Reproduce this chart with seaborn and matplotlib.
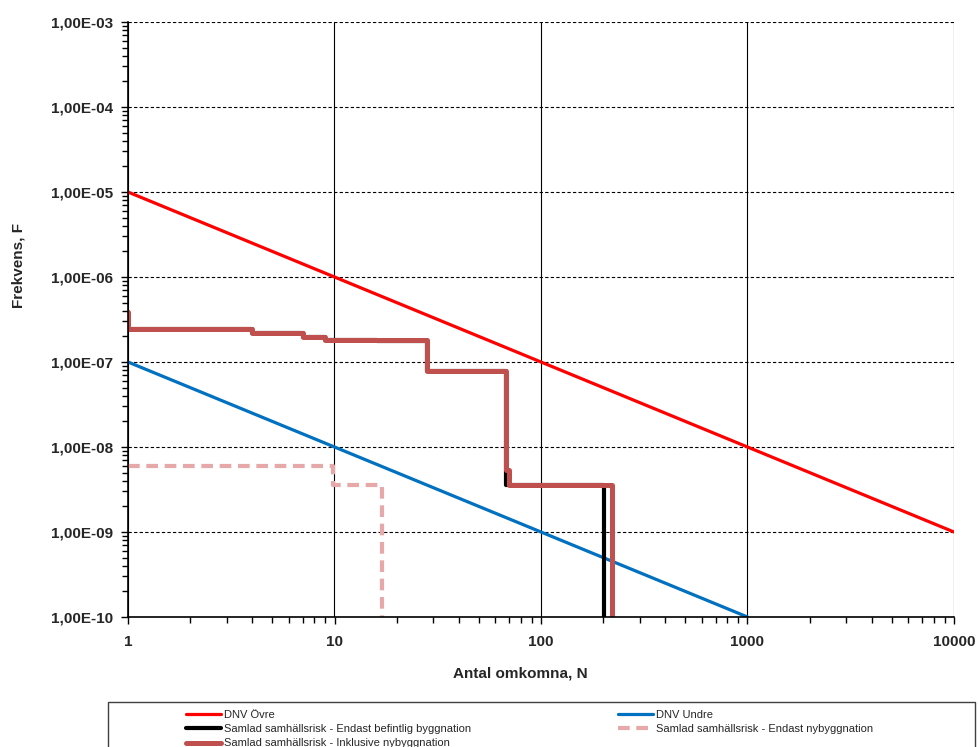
import matplotlib
matplotlib.use("Agg")
import matplotlib.pyplot as plt
import seaborn as sns
from matplotlib.ticker import FuncFormatter, LogLocator, NullFormatter
from matplotlib.patches import Rectangle

# DNV criteria lines (N, F)
n_ovre = [1, 10000]
f_ovre = [1e-5, 1e-9]
n_undre = [1, 1000]
f_undre = [1e-7, 1e-10]

# Societal risk step curves (N, F), drawn as steps-post
n_befintlig = [1, 1, 4, 7, 9, 16, 28, 68, 202, 202]
f_befintlig = [3.9e-7, 2.44e-7, 2.21e-7, 1.95e-7, 1.81e-7, 1.75e-7, 7.9e-8, 3.57e-9, 3.57e-9, 1e-11]
n_nybygg = [1, 9.8, 17, 17]
f_nybygg = [6.0e-9, 3.6e-9, 3.6e-9, 1e-11]
n_inkl = [1, 1, 4, 7, 9, 28, 68, 70, 220, 220]
f_inkl = [3.9e-7, 2.44e-7, 2.21e-7, 1.95e-7, 1.8e-7, 7.9e-8, 5.4e-9, 3.57e-9, 3.57e-9, 1e-11]

x_ticks = [1, 10, 100, 1000, 10000]
y_ticks = [1e-10, 1e-9, 1e-8, 1e-7, 1e-6, 1e-5, 1e-4, 1e-3]

sns.set_theme(style="white")
plt.rcParams['font.family'] = ['Liberation Sans', 'DejaVu Sans']

fig = plt.figure(figsize=(9.79, 7.47), dpi=100)
ax = fig.add_axes([128 / 979, 1 - 617 / 747, 826 / 979, 595 / 747])

kw = dict(estimator=None, sort=False, ax=ax, legend=False)
sns.lineplot(x=n_ovre, y=f_ovre, color='#FF0000', lw=2.3, **kw)
sns.lineplot(x=n_undre, y=f_undre, color='#0070C0', lw=2.3, **kw)
sns.lineplot(x=n_befintlig, y=f_befintlig, color='black', lw=3.0, drawstyle='steps-post', **kw)
sns.lineplot(x=n_nybygg, y=f_nybygg, color='#E6A8A8', lw=3.0, drawstyle='steps-post',
             dashes=False, linestyle=(0, (2.8, 1.6)), **kw)
sns.lineplot(x=n_inkl, y=f_inkl, color='#C0504D', lw=3.6, drawstyle='steps-post', **kw)

ax.set_xscale('log')
ax.set_yscale('log')
ax.set_xlim(1, 10000)
ax.set_ylim(1e-10, 1e-3)

ax.set_xticks(x_ticks)
ax.xaxis.set_major_formatter(FuncFormatter(lambda v, p: f"{int(round(v))}"))
ax.xaxis.set_minor_locator(LogLocator(base=10, subs=range(2, 10)))
ax.xaxis.set_minor_formatter(NullFormatter())
ax.set_yticks(y_ticks)
ax.yaxis.set_major_formatter(FuncFormatter(lambda v, p: f"{v:.2E}".replace('.', ',')))
ax.yaxis.set_minor_locator(LogLocator(base=10, subs=range(2, 10)))
ax.yaxis.set_minor_formatter(NullFormatter())

ax.tick_params(axis='both', which='both', direction='out', color='black', width=1,
               bottom=True, left=True)
ax.tick_params(axis='both', which='major', length=5, labelsize=11)
ax.tick_params(axis='both', which='minor', length=4)
ax.tick_params(axis='y', pad=6)
ax.tick_params(axis='x', pad=8)
for lab in ax.get_xticklabels() + ax.get_yticklabels():
    lab.set_fontweight('bold')

ax.grid(False)
ax.xaxis.grid(True, which='major', color='black', lw=0.8, linestyle='-')
ax.yaxis.grid(True, which='major', color='black', lw=0.8, linestyle=(0, (3, 2)))

for side in ['top', 'right']:
    ax.spines[side].set_visible(False)
for side in ['left', 'bottom']:
    ax.spines[side].set_color('black')
    ax.spines[side].set_linewidth(1.2)

ax.set_xlabel('Antal omkomna, N', fontsize=11, fontweight='bold')
ax.set_ylabel('Frekvens, F', fontsize=11, fontweight='bold')
ax.xaxis.set_label_coords(0.4746, -0.083)
ax.yaxis.set_label_coords(-0.124, 0.59)

# legend box, cut off at the bottom edge like the reference
fig.patches.append(Rectangle((108 / 979, -0.05), 867 / 979, 0.05 + (747 - 702) / 747,
                             transform=fig.transFigure, fill=False,
                             edgecolor='#404040', lw=1.0))

h_ovre = plt.Line2D([], [], color='#FF0000', lw=2.3)
h_undre = plt.Line2D([], [], color='#0070C0', lw=2.3)
h_bef = plt.Line2D([], [], color='black', lw=3.0)
h_ny = plt.Line2D([], [], color='#E6A8A8', lw=3.0, linestyle=(0, (2.8, 1.6)))
h_inkl = plt.Line2D([], [], color='#C0504D', lw=3.6)

leg_kw = dict(frameon=False, fontsize=8, handlelength=3.2, handletextpad=0.3,
              labelspacing=0.4, borderpad=0, loc='upper left')
leg1 = fig.legend([h_ovre, h_bef, h_inkl],
                  ['DNV Övre', 'Samlad samhällsrisk - Endast befintlig byggnation',
                   'Samlad samhällsrisk - Inklusive nybyggnation'],
                  bbox_to_anchor=(180 / 979, 1 - 704 / 747), **leg_kw)
leg2 = fig.legend([h_undre, h_ny],
                  ['DNV Undre', 'Samlad samhällsrisk - Endast nybyggnation'],
                  bbox_to_anchor=(612 / 979, 1 - 704 / 747), **leg_kw)

fig.savefig('out.png', dpi=100)
